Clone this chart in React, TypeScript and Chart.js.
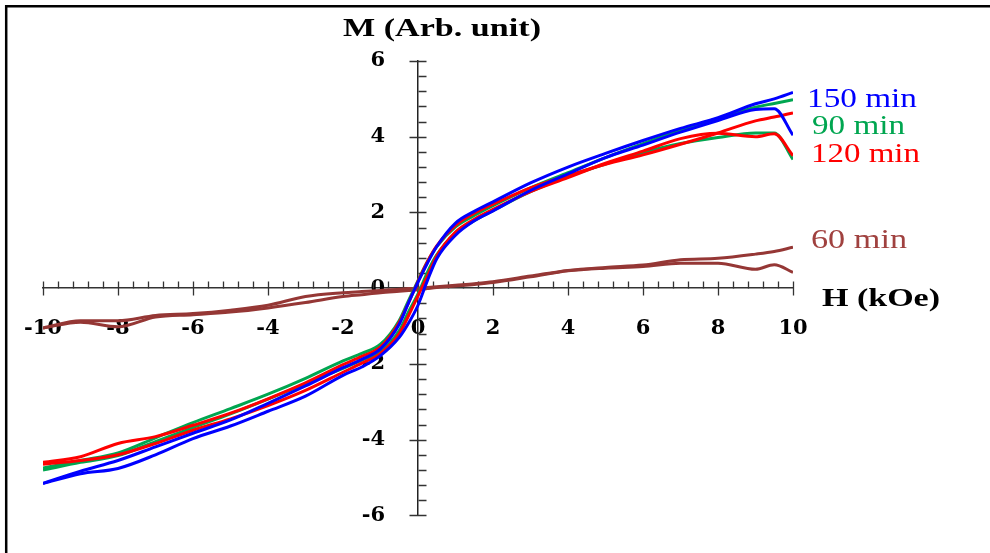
import React, { useEffect, useRef } from 'react';
import { Chart, registerables } from 'chart.js';

Chart.register(...registerables);

// Field H (kOe) sampling points, shared by every branch (ascending)
const H = [-10, -9, -8, -7, -6, -5, -4, -3, -2, -1.5, -1, -0.5, -0.25, 0, 0.25, 0.5, 1, 1.5, 2, 3, 4, 5, 6, 7, 8, 9, 9.5, 10];

// 150 min
const M150_UPPER = [-5.15, -4.83, -4.55, -4.19, -3.83, -3.48, -3.04, -2.58, -2.10, -1.88, -1.60, -0.95, -0.38, 0.16, 0.66, 1.10, 1.72, 2.03, 2.28, 2.78, 3.20, 3.56, 3.90, 4.22, 4.50, 4.87, 5.00, 5.17];
const M150_LOWER = [-5.16, -4.90, -4.76, -4.40, -3.97, -3.64, -3.25, -2.85, -2.30, -2.08, -1.78, -1.30, -0.92, -0.45, 0.20, 0.78, 1.40, 1.78, 2.04, 2.58, 3.02, 3.45, 3.78, 4.12, 4.43, 4.72, 4.74, 4.04];
// 90 min
const M90_UPPER = [-4.75, -4.55, -4.35, -3.95, -3.55, -3.18, -2.80, -2.38, -1.92, -1.72, -1.48, -0.85, -0.32, 0.20, 0.70, 1.10, 1.62, 1.92, 2.18, 2.65, 3.05, 3.45, 3.82, 4.18, 4.48, 4.78, 4.88, 4.98];
const M90_LOWER = [-4.80, -4.60, -4.42, -4.05, -3.68, -3.32, -2.93, -2.52, -2.12, -1.90, -1.68, -1.12, -0.62, -0.15, 0.42, 0.88, 1.45, 1.78, 2.05, 2.55, 2.95, 3.28, 3.58, 3.82, 3.98, 4.10, 4.10, 3.40];
// 120 min
const M120_UPPER = [-4.60, -4.45, -4.10, -3.92, -3.62, -3.30, -2.92, -2.50, -2.02, -1.80, -1.55, -0.90, -0.38, 0.18, 0.70, 1.12, 1.66, 1.98, 2.22, 2.65, 2.98, 3.27, 3.52, 3.80, 4.10, 4.42, 4.52, 4.63];
const M120_LOWER = [-4.65, -4.55, -4.40, -4.10, -3.75, -3.45, -3.10, -2.70, -2.22, -1.98, -1.72, -1.20, -0.72, -0.20, 0.32, 0.85, 1.48, 1.82, 2.08, 2.55, 2.92, 3.30, 3.62, 3.95, 4.09, 4.00, 4.08, 3.50];
// 60 min
const M60_UPPER = [-1.05, -0.86, -0.86, -0.72, -0.67, -0.58, -0.45, -0.22, -0.12, -0.09, -0.06, -0.03, -0.01, 0.00, 0.02, 0.04, 0.08, 0.12, 0.17, 0.32, 0.47, 0.55, 0.61, 0.75, 0.79, 0.90, 0.97, 1.08];
const M60_LOWER = [-1.05, -0.90, -1.02, -0.76, -0.70, -0.63, -0.52, -0.38, -0.22, -0.17, -0.12, -0.08, -0.06, -0.04, -0.01, 0.02, 0.06, 0.10, 0.15, 0.30, 0.46, 0.53, 0.57, 0.66, 0.66, 0.50, 0.62, 0.42];

const SERIES_NAMES = ['150 min', '90 min', '120 min', '60 min'];
const SERIES_COLORS = ['#0000ff', '#00a650', '#ff0000', '#a0413f'];

const X_TICKS = [-10, -8, -6, -4, -2, 0, 2, 4, 6, 8, 10];
const Y_TICKS = [-6, -4, -2, 0, 2, 4, 6];
const MINOR_STEP = 0.4;
const X_TITLE = 'H (kOe)';
const Y_TITLE = 'M (Arb. unit)';

const TICK_FONT = { family: 'DejaVu Serif', weight: 'bold' as const, size: 21 };

function pts(ys: number[]) {
  return H.map((h, i) => ({ x: h, y: ys[i] }));
}

function stretchText(ctx: CanvasRenderingContext2D, text: string, font: string, color: string, left: number, baseline: number, width: number) {
  ctx.save();
  ctx.font = font;
  ctx.fillStyle = color;
  ctx.textAlign = 'left';
  ctx.textBaseline = 'alphabetic';
  const w = ctx.measureText(text).width;
  ctx.translate(left, baseline);
  ctx.scale(width / w, 1);
  ctx.fillText(text, 0, 0);
  ctx.restore();
}

const decor = {
  id: 'decor',
  beforeDraw(chart: any) {
    const ctx = chart.ctx as CanvasRenderingContext2D;
    ctx.save();
    ctx.fillStyle = '#ffffff';
    ctx.fillRect(0, 0, chart.width, chart.height);
    ctx.strokeStyle = '#000';
    ctx.lineWidth = 2.5;
    ctx.beginPath();
    ctx.moveTo(5, 6.2);
    ctx.lineTo(chart.width, 6.2);
    ctx.moveTo(6.2, 5);
    ctx.lineTo(6.2, chart.height);
    ctx.stroke();
    ctx.restore();
  },
  beforeDatasetsDraw(chart: any) {
    const ctx = chart.ctx as CanvasRenderingContext2D;
    const xs = chart.scales.x;
    const ys = chart.scales.y;
    const x0 = Math.round(xs.getPixelForValue(0)) + 0.5;
    const y0 = Math.round(ys.getPixelForValue(0)) + 0.5;
    ctx.save();
    ctx.strokeStyle = '#333';
    ctx.lineWidth = 1.3;
    ctx.beginPath();
    const nx = Math.round((xs.max - xs.min) / MINOR_STEP);
    for (let i = 0; i <= nx; i++) {
      const v = xs.min + i * MINOR_STEP;
      const px = Math.round(xs.getPixelForValue(v)) + 0.5;
      const major = i % 5 === 0;
      ctx.moveTo(px, y0 - 7);
      ctx.lineTo(px, major ? y0 + 7 : y0);
    }
    const ny = Math.round((ys.max - ys.min) / MINOR_STEP);
    for (let i = 0; i <= ny; i++) {
      const v = ys.min + i * MINOR_STEP;
      const py = Math.round(ys.getPixelForValue(v)) + 0.5;
      const major = i % 5 === 0;
      ctx.moveTo(major ? x0 - 9 : x0, py);
      ctx.lineTo(x0 + 8, py);
    }
    ctx.stroke();
    ctx.restore();
  },
  afterDraw(chart: any) {
    const ctx = chart.ctx as CanvasRenderingContext2D;
    stretchText(ctx, Y_TITLE, 'bold 25px "Liberation Serif"', '#000', 343, 36, 198);
    stretchText(ctx, X_TITLE, 'bold 26px "Liberation Serif"', '#000', 822, 306, 118);
    stretchText(ctx, SERIES_NAMES[0], '28px "Liberation Serif"', SERIES_COLORS[0], 807, 107, 110);
    stretchText(ctx, SERIES_NAMES[1], '28px "Liberation Serif"', SERIES_COLORS[1], 812, 134, 93);
    stretchText(ctx, SERIES_NAMES[2], '28px "Liberation Serif"', SERIES_COLORS[2], 811, 162, 109);
    stretchText(ctx, SERIES_NAMES[3], '28px "Liberation Serif"', SERIES_COLORS[3], 811, 248, 96);
  },
};

export default function App() {
  const ref = useRef<HTMLCanvasElement | null>(null);
  useEffect(() => {
    if (!ref.current) return;
    const mk = (label: string, ys: number[], color: string) => ({
      label,
      data: pts(ys),
      borderColor: color,
      backgroundColor: color,
      borderWidth: 3,
      showLine: true,
      pointRadius: 0,
      fill: false,
      cubicInterpolationMode: 'monotone' as const,
    });
    const chart = new Chart(ref.current, {
      type: 'scatter',
      data: {
        datasets: [
          mk(SERIES_NAMES[0], M150_UPPER, SERIES_COLORS[0]),
          mk(SERIES_NAMES[0], M150_LOWER, SERIES_COLORS[0]),
          mk(SERIES_NAMES[2], M120_UPPER, SERIES_COLORS[2]),
          mk(SERIES_NAMES[2], M120_LOWER, SERIES_COLORS[2]),
          mk(SERIES_NAMES[1], M90_UPPER, SERIES_COLORS[1]),
          mk(SERIES_NAMES[1], M90_LOWER, SERIES_COLORS[1]),
          mk(SERIES_NAMES[3], M60_UPPER, '#953735'),
          mk(SERIES_NAMES[3], M60_LOWER, '#953735'),
        ],
      },
      options: {
        responsive: false,
        animation: false,
        devicePixelRatio: 1,
        layout: { padding: { left: 43, right: 197, top: 61, bottom: 27 } },
        plugins: {
          legend: { display: false },
          tooltip: { enabled: false },
          title: { display: false },
        },
        scales: {
          x: {
            type: 'linear',
            min: -10,
            max: 10,
            position: { y: 0 } as any,
            grid: { display: false },
            border: { display: true, color: '#333', width: 1.5 },
            ticks: {
              font: TICK_FONT,
              color: '#000',
              padding: 20,
              autoSkip: false,
              maxRotation: 0,
              callback: (v: any) => String(v),
            },
            afterBuildTicks: (s: any) => {
              s.ticks = X_TICKS.map((v) => ({ value: v }));
            },
          },
          y: {
            type: 'linear',
            min: -6,
            max: 6,
            position: 'center',
            grid: { display: false },
            border: { display: true, color: '#222', width: 1.5 },
            ticks: {
              font: TICK_FONT,
              color: '#000',
              padding: 25,
              autoSkip: false,
              callback: (v: any) => String(v),
            },
            afterBuildTicks: (s: any) => {
              s.ticks = Y_TICKS.map((v) => ({ value: v }));
            },
          },
        },
      },
      plugins: [decor],
    });
    return () => chart.destroy();
  }, []);
  return (
    <div style={{ position: 'absolute', left: 0, top: 0, width: 990, height: 553, background: '#fff' }}>
      <canvas ref={ref} width={990} height={553} style={{ display: 'block' }} />
    </div>
  );
}
